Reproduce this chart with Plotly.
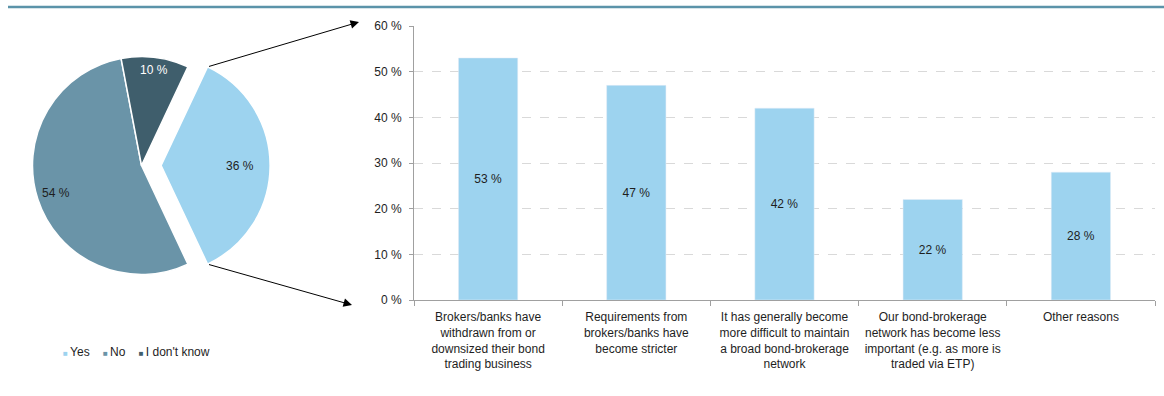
import math
import plotly.graph_objects as go

# ---- data -------------------------------------------------------------
pie_labels = ["Yes", "No", "I don't know"]
pie_values = [36, 54, 10]
pie_colors = ["#9dd3ef", "#6a94a8", "#3f5e6c"]
pie_text_colors = ["#1e1e1e", "#1e1e1e", "#ffffff"]

reasons = [
    "Brokers/banks have<br>withdrawn from or<br>downsized their bond<br>trading business",
    "Requirements from<br>brokers/banks have<br>become stricter",
    "It has generally become<br>more difficult to maintain<br>a broad bond-brokerage<br>network",
    "Our bond-brokerage<br>network has become less<br>important (e.g. as more is<br>traded via ETP)",
    "Other reasons",
]
reason_values = [53, 47, 42, 22, 28]
y_ticks = [0, 10, 20, 30, 40, 50, 60]

# ---- page geometry (pixels) -------------------------------------------
W, H = 1164, 396
FONT = "Liberation Sans, Arial, sans-serif"
pie_cx, pie_cy, pie_r = 141.5, 165.5, 109.0
pull = 0.18
label_radius = [0.72, 0.82, 0.88]      # radial position of slice labels
bar_x0, bar_x1 = 414, 1155
bar_y0, bar_y1 = 26, 300


def px(x):
    return x / W


def py(y):
    return 1 - y / H


# Yes slice centred on 3 o'clock, slices running clockwise
rotation = 90 - pie_values[0] / sum(pie_values) * 360 / 2

half = pie_r * (1 + pull)
fig = go.Figure()
fig.add_trace(go.Pie(
    labels=pie_labels,
    values=pie_values,
    sort=False,
    direction="clockwise",
    rotation=rotation,
    pull=[pull, 0, 0],
    marker=dict(colors=pie_colors, line=dict(color="#ffffff", width=1.5)),
    textinfo="none",
    hoverinfo="label+percent",
    showlegend=False,
    domain=dict(x=[px(pie_cx - half), px(pie_cx + half)],
                y=[py(pie_cy + half), py(pie_cy - half)]),
))

fig.add_trace(go.Bar(
    x=reasons,
    y=reason_values,
    marker=dict(color="#9dd3ef"),
    text=[f"{v} %" for v in reason_values],
    textposition="inside",
    insidetextanchor="middle",
    textfont=dict(color="#1e1e1e", size=12, family=FONT),
    showlegend=False,
    xaxis="x", yaxis="y",
))

# annotations live on a hidden full-page pixel axis pair (x2/y2)
annotations = []

# slice labels placed along each slice's mid-angle
total = sum(pie_values)
start = rotation
for i, v in enumerate(pie_values):
    span = v / total * 360
    mid = math.radians(start + span / 2)
    cx = pie_cx + (pull * pie_r * math.sin(mid) if i == 0 else 0)
    cy = pie_cy - (pull * pie_r * math.cos(mid) if i == 0 else 0)
    lx = cx + label_radius[i] * pie_r * math.sin(mid)
    ly = cy - label_radius[i] * pie_r * math.cos(mid)
    annotations.append(dict(
        x=lx, y=ly, xref="x2", yref="y2",
        text=f"{v} %", showarrow=False,
        font=dict(size=12, color=pie_text_colors[i], family=FONT),
        xanchor="center", yanchor="middle",
    ))
    start += span

# connector arrows from the exploded slice to the bar chart
yes_a0 = math.radians(rotation)
yes_a1 = math.radians(rotation + pie_values[0] / total * 360)
vx = pie_cx + pull * pie_r
vy = pie_cy
tails = [
    (vx + pie_r * math.sin(yes_a0), vy - pie_r * math.cos(yes_a0)),
    (vx + pie_r * math.sin(yes_a1), vy - pie_r * math.cos(yes_a1)),
]
heads = [(bar_x0 - 55, bar_y0 - 4), (bar_x0 - 62, bar_y1 + 5)]
for (tx, ty), (hx, hy) in zip(tails, heads):
    annotations.append(dict(
        x=hx, y=hy, xref="x2", yref="y2",
        ax=tx, ay=ty, axref="x2", ayref="y2",
        showarrow=True, arrowhead=2, arrowsize=1.7, arrowwidth=1,
        arrowcolor="#000000", standoff=0, startstandoff=0, text="",
    ))

# compact legend for the pie
sq = "<span style='font-size:8px;color:{c}'>\u25a0&nbsp;</span>"
legend_text = "&nbsp;&nbsp;&nbsp; ".join(
    sq.format(c=c) + lab for c, lab in zip(pie_colors, pie_labels)
)
annotations.append(dict(
    x=61, y=352, xref="x2", yref="y2",
    text=legend_text, showarrow=False, xanchor="left", yanchor="middle",
    font=dict(size=12, color="#1e1e1e", family=FONT),
))

fig.update_layout(
    width=W, height=H,
    margin=dict(l=0, r=0, t=0, b=0, pad=0, autoexpand=False),
    paper_bgcolor="#ffffff",
    plot_bgcolor="rgba(0,0,0,0)",
    font=dict(family=FONT, size=12, color="#1e1e1e"),
    bargap=0.6,
    xaxis=dict(
        domain=[px(bar_x0), px(bar_x1)],
        anchor="y",
        showline=True, linecolor="#a0a0a0", linewidth=1,
        ticks="outside", tickson="boundaries", ticklen=5, tickcolor="#a0a0a0",
        showgrid=False,
        ticklabelstandoff=6,
        automargin=False,
        tickfont=dict(size=12, color="#1e1e1e", family=FONT),
        fixedrange=True,
    ),
    yaxis=dict(
        domain=[py(bar_y1), py(bar_y0)],
        anchor="x",
        range=[0, 60],
        tickvals=y_ticks,
        ticktext=[f"{t} %" for t in y_ticks],
        showline=True, linecolor="#a0a0a0", linewidth=1,
        ticks="outside", ticklen=4, tickcolor="#a0a0a0",
        showgrid=True, gridcolor="#d9d9d9", griddash="dash", gridwidth=1,
        zeroline=False,
        ticklabelstandoff=5,
        automargin=False,
        tickfont=dict(size=12, color="#1e1e1e", family=FONT),
        fixedrange=True,
    ),
    xaxis2=dict(domain=[0, 1], range=[0, W], visible=False,
                anchor="y2", automargin=False, fixedrange=True),
    yaxis2=dict(domain=[0, 1], range=[H, 0], visible=False,
                anchor="x2", automargin=False, fixedrange=True),
    shapes=[dict(
        type="line", xref="x2", yref="y2",
        x0=8, x1=W, y0=7, y1=7,
        line=dict(color="#5b93a9", width=2.5),
    )],
    annotations=annotations,
)

fig.write_html("out.html")
